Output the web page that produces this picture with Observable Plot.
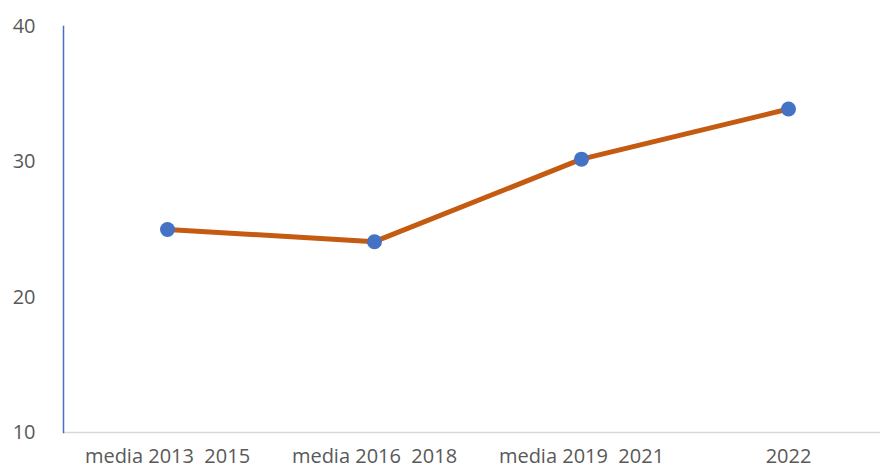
<!DOCTYPE html>
<html>
<head>
<meta charset="utf-8">
<script src="https://cdn.jsdelivr.net/npm/d3@7"></script>
<script src="https://cdn.jsdelivr.net/npm/@observablehq/plot@0.6"></script>
<style>
  html, body { margin: 0; padding: 0; background: #fff; }
  svg text { white-space: pre; }
</style>
</head>
<body>
<div id="chart"></div>
<script>
const categories = ["media 2013  2015", "media 2016  2018", "media 2019  2021", "2022"];
const values = [25.0, 24.1, 30.2, 33.9];
const yTicks = [10, 20, 30, 40];

const data = categories.map((c, i) => ({cat: c, val: values[i]}));

const chart = Plot.plot({
  width: 883,
  height: 469,
  marginLeft: 63,
  marginRight: 3,
  marginTop: 26,
  marginBottom: 37,
  style: {fontFamily: "'Open Sans', sans-serif", fontSize: "16px", color: "#595959", background: "#fff"},
  x: {type: "point", domain: categories, range: [167, 788], padding: 0, label: null},
  y: {domain: [10, 40], ticks: yTicks, label: null},
  marks: [
    Plot.ruleY([10], {stroke: "#d9d9d9", strokeWidth: 1.5}),
    Plot.frame({anchor: "left", stroke: "#4472C4", strokeWidth: 1.5}),
    Plot.axisY({ticks: yTicks, tickSize: 0, tickPadding: 28, label: null, fill: "#595959", fontSize: 20}),
    Plot.axisX({tickSize: 0, tickPadding: 16, label: null, fill: "#595959", fontSize: 20}),
    Plot.line(data, {x: "cat", y: "val", stroke: "#C55A11", strokeWidth: 5}),
    Plot.dot(data, {x: "cat", y: "val", r: 7.5, fill: "#4472C4", stroke: "none"})
  ]
});
document.getElementById("chart").appendChild(chart);
</script>
</body>
</html>
